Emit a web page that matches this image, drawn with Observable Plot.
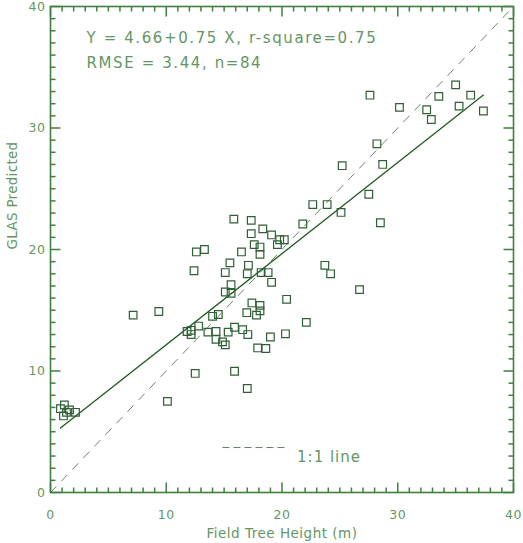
<!DOCTYPE html>
<html>
<head>
<meta charset="utf-8">
<script src="https://cdn.jsdelivr.net/npm/d3@7"></script>
<script src="https://cdn.jsdelivr.net/npm/@observablehq/plot@0.6"></script>
<style>
  html, body { margin: 0; padding: 0; background: #ffffff; }
  #chart svg { display: block; }
</style>
</head>
<body>
<div id="chart"></div>
<script>
// ---- data ----
const fieldHeight = [1.2,0.86,1.64,1.38,2.16,1.12,7.14,9.36,10.1,12.5,11.8,12.15,12.15,12.8,14.0,13.6,14.3,14.3,12.6,12.4,13.3,22.66,23.9,15.84,17.34,21.8,18.34,17.34,19.1,19.8,20.2,17.6,18.1,19.6,16.5,18.1,15.5,17.1,15.1,17.0,18.2,18.8,19.1,15.6,15.1,15.6,20.4,17.4,18.1,18.1,16.96,17.8,14.5,23.7,24.2,15.35,15.9,16.6,17.05,14.86,15.1,22.1,20.3,19.0,17.9,18.6,15.9,17.0,27.6,35.0,33.55,36.3,30.15,32.5,35.3,32.9,37.4,28.2,25.2,28.7,27.5,25.1,28.5,26.7];
const glasPredicted = [7.2,6.9,6.8,6.6,6.6,6.3,14.6,14.9,7.5,9.8,13.25,13.35,13.0,13.7,14.5,13.2,13.25,12.6,19.8,18.25,20.0,23.7,23.7,22.5,22.4,22.1,21.7,21.3,21.2,20.8,20.8,20.4,20.2,20.4,19.8,19.6,18.9,18.7,18.1,18.0,18.1,18.1,17.3,17.1,16.5,16.4,15.9,15.6,15.4,14.95,14.8,14.6,14.65,18.7,18.0,13.2,13.6,13.4,13.0,12.4,12.15,14.0,13.06,12.8,11.9,11.85,9.98,8.56,32.7,33.55,32.6,32.7,31.7,31.5,31.8,30.7,31.4,28.7,26.9,27.0,24.55,23.05,22.2,16.7];
const fitIntercept = 4.66;
const fitSlope = 0.75;
const xTicks = [0, 10, 20, 30, 40];
const yTicks = [0, 10, 20, 30, 40];
const annotationLines = ["Y = 4.66+0.75 X, r-square=0.75", "RMSE = 3.44, n=84"];
const legendLabel = "1:1 line";
const xLabel = "Field Tree Height (m)";
const yLabel = "GLAS Predicted";

// ---- derived tables ----
const points = fieldHeight.map((x, i) => ({x, y: glasPredicted[i]}));
const [xmin, xmax] = d3.extent(fieldHeight);
const fitLine = [xmin, xmax].map(x => ({x, y: fitIntercept + fitSlope * x}));
const oneToOne = [0, 40].map(v => ({x: v, y: v}));
const minor = d3.range(0, 41);

const axisColor = "#3f7f3f";
const textColor = "#639663";
const W = 523, H = 543;
const mL = 50, mR = 10, mT = 6, mB = 51;
const pxX = 40 / (W - mL - mR);   // data units per pixel (x)
const pxY = 40 / (H - mT - mB);   // data units per pixel (y)
const tl = v => (v % 10 === 0 ? 10 : 5);

// tick segments for the four sides (built from tick positions)
const ticksBottom = minor.map(v => ({x1: v, x2: v, y1: 0, y2: tl(v) * pxY}));
const ticksTop = minor.map(v => ({x1: v, x2: v, y1: 40, y2: 40 - tl(v) * pxY}));
const ticksLeft = minor.map(v => ({y1: v, y2: v, x1: 0, x2: tl(v) * pxX}));
const ticksRight = minor.map(v => ({y1: v, y2: v, x1: 40, x2: 40 - tl(v) * pxX}));

const font = "DejaVu Sans, sans-serif";
const tickOpts = {x1: "x1", x2: "x2", y1: "y1", y2: "y2", stroke: axisColor, strokeWidth: 1.5};

const chart = Plot.plot({
  width: W,
  height: H,
  marginLeft: mL,
  marginRight: mR,
  marginTop: mT,
  marginBottom: mB,
  style: {background: "#ffffff", fontFamily: font},
  x: {domain: [0, 40], axis: null},
  y: {domain: [0, 40], axis: null},
  marks: [
    Plot.axisX(xTicks, {tickSize: 0, tickPadding: 18, fontSize: 12.5, color: textColor, fontFamily: font, label: null}),
    Plot.axisY(yTicks, {tickSize: 0, tickPadding: 5, fontSize: 12.5, color: textColor, fontFamily: font, label: null}),
    // 1:1 dashed line
    Plot.line(oneToOne, {x: "x", y: "y", stroke: "#6a876a", strokeWidth: 1, strokeDasharray: "8,8"}),
    // regression line
    Plot.line(fitLine, {x: "x", y: "y", stroke: "#1e5a1e", strokeWidth: 1.3}),
    // points
    Plot.dot(points, {x: "x", y: "y", symbol: "square", r: 4.3, stroke: "#2f5f35", strokeWidth: 1.2, fill: "none"}),
    // annotations
    Plot.text([annotationLines[0]], {frameAnchor: "top-left", dx: 36, dy: 32, textAnchor: "start", lineAnchor: "middle", fontSize: 15, fill: textColor, fontFamily: font}),
    Plot.text([annotationLines[1]], {frameAnchor: "top-left", dx: 36, dy: 57, textAnchor: "start", lineAnchor: "middle", fontSize: 15, fill: textColor, fontFamily: font}),
    // legend
    Plot.ruleY([3.7], {x1: 14.9, x2: 20.3, stroke: "#5f7f5f", strokeWidth: 1, strokeDasharray: "7,4"}),
    Plot.text([legendLabel], {x: 21.3, y: 2.9, textAnchor: "start", lineAnchor: "middle", fontSize: 15, fill: textColor, fontFamily: font}),
    // axis labels
    Plot.text([xLabel], {frameAnchor: "bottom", dy: 41, lineAnchor: "middle", fontSize: 13.5, fill: textColor, fontFamily: font}),
    Plot.text([yLabel], {frameAnchor: "left", dx: -38, rotate: -90, lineAnchor: "middle", fontSize: 13.5, fill: textColor, fontFamily: font}),
    // frame and inner ticks on all four sides
    Plot.frame({stroke: axisColor, strokeWidth: 1.6, fill: "none"}),
    Plot.link(ticksBottom, tickOpts),
    Plot.link(ticksTop, tickOpts),
    Plot.link(ticksLeft, tickOpts),
    Plot.link(ticksRight, tickOpts)
  ]
});

// IDL-style wide letter spacing
const spacing = new Map([
  [annotationLines[0], 1.6], [annotationLines[1], 1.6], [legendLabel, 1.0],
  [xLabel, 0.5], [yLabel, 0.3]
]);
d3.select(chart).selectAll("text").each(function () {
  const t = this.textContent;
  this.style.letterSpacing = (spacing.has(t) ? spacing.get(t) : 0.5) + "px";
});

document.getElementById("chart").appendChild(chart);
</script>
</body>
</html>
